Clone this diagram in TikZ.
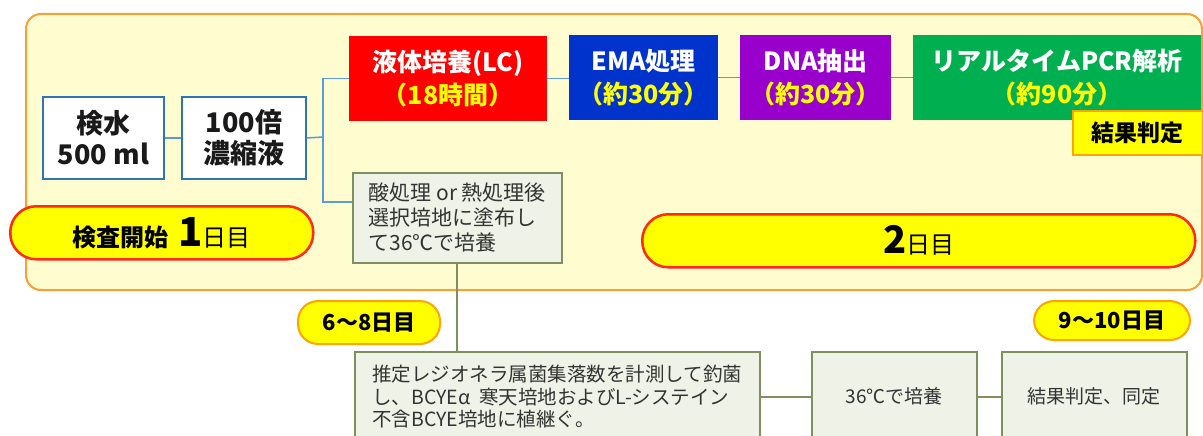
\documentclass[tikz,border=0pt]{standalone}
\usepackage{fontspec}
\setmainfont{Noto Sans CJK JP}
\definecolor{frameor}{HTML}{F7A035}
\definecolor{framefill}{HTML}{FFFDCF}
\definecolor{boxblue}{HTML}{2E75B6}
\definecolor{linkblue}{HTML}{5B9BD5}
\definecolor{lcred}{HTML}{FF0000}
\definecolor{emablue}{HTML}{0033CC}
\definecolor{dnapurple}{HTML}{9900CC}
\definecolor{pcrgreen}{HTML}{00B050}
\definecolor{hiyellow}{HTML}{FFFF00}
\definecolor{pillred}{HTML}{FF2A10}
\definecolor{pillorange}{HTML}{FFA500}
\definecolor{olivebd}{HTML}{7F8F5F}
\definecolor{palebox}{HTML}{EFF2E6}
\definecolor{txtdark}{HTML}{1A1A1A}
\definecolor{txtgray}{HTML}{333333}
\begin{document}
\begin{tikzpicture}[x=1pt,y=-1pt,
  basebox/.style={rectangle, anchor=north west, inner sep=0pt, align=center},
  bluebox/.style={basebox, draw=boxblue, line width=2pt, fill=white, text=txtdark,
    font=\fontsize{27}{31}\selectfont\bfseries},
  colbox/.style={basebox, text=white, font=\fontsize{25}{33}\selectfont\bfseries},
  palegreen/.style={basebox, draw=olivebd, line width=1.5pt, fill=palebox, text=txtgray},
  bigpill/.style={basebox, draw=pillred, line width=2.5pt, fill=hiyellow, rounded corners=26pt, text=black},
  smallpill/.style={basebox, draw=pillorange, line width=2pt, fill=hiyellow, rounded corners=20pt, text=black,
    font=\fontsize{22}{22}\selectfont\bfseries},
  toplink/.style={draw=linkblue, line width=1.5pt},
  botlink/.style={draw=olivebd, line width=2pt}]
\clip (0,0) rectangle (1203,436);
\fill[white] (0,0) rectangle (1203,436);
\node[basebox, draw=frameor, line width=2pt, fill=framefill, rounded corners=15pt,
  minimum width=1176pt, minimum height=276pt] (frame) at (25,13) {};

% top flow
\node[bluebox, minimum width=121pt, minimum height=82pt] (kensui) at (42,96) {検水\\500 ml};
\node[bluebox, minimum width=124pt, minimum height=82pt] (noshuku) at (181,96) {100倍\\濃縮液};
\node[colbox, fill=lcred, minimum width=198pt, minimum height=85pt] (lc) at (349,36)
  {液体培養(LC)\\\textcolor{hiyellow}{（18時間）}};
\node[colbox, fill=emablue, minimum width=149pt, minimum height=85pt] (ema) at (569,35)
  {EMA処理\\\textcolor{hiyellow}{（約30分）}};
\node[colbox, fill=dnapurple, minimum width=151pt, minimum height=85pt] (dna) at (740,35)
  {DNA抽出\\\textcolor{hiyellow}{（約30分）}};
\node[colbox, fill=pcrgreen, minimum width=288pt, minimum height=85pt] (pcr) at (913,35)
  {リアルタイムPCR解析\\\textcolor{hiyellow}{（約90分）}};
\node[basebox, draw=pillorange, line width=1.5pt, fill=hiyellow, text=black,
  font=\fontsize{23}{23}\selectfont\bfseries, minimum width=130pt, minimum height=44pt] (hantei) at (1072,110) {結果判定};
\node[palegreen, align=left, font=\fontsize{21}{25}\selectfont, minimum width=209pt, minimum height=90pt] (san) at (352,172)
  {酸処理 or 熱処理後\\選択培地に塗布し\\て36℃で培養};

% day pills
\node[bigpill, minimum width=303pt, minimum height=53pt] (day1) at (9,205)
  {\fontsize{24}{24}\selectfont\bfseries 検査開始\hspace{10pt}\fontsize{40}{40}\selectfont 1\fontsize{24}{24}\selectfont\mdseries 日目};
\node[bigpill, minimum width=553pt, minimum height=53pt] (day2) at (641,213)
  {\fontsize{38}{38}\selectfont\bfseries 2\fontsize{24}{24}\selectfont\mdseries 日目};
\node[smallpill, minimum width=142pt, minimum height=43pt] (d68) at (297,300) {6〜8日目};
\node[smallpill, minimum width=156pt, minimum height=39pt] (d910) at (1033,300) {9〜10日目};

% bottom flow
\node[palegreen, align=left, font=\fontsize{19.5}{22.5}\selectfont, minimum width=405pt, minimum height=90pt] (suitei) at (354,351)
  {推定レジオネラ属菌集落数を計測して釣菌\\し、BCYEα\ \ 寒天培地およびL-システイン\\不含BCYE培地に植継ぐ。};
\node[palegreen, font=\fontsize{19}{22}\selectfont, minimum width=165pt, minimum height=90pt] (incub) at (811,351) {36℃で培養};
\node[palegreen, font=\fontsize{19}{22}\selectfont, minimum width=185pt, minimum height=90pt] (dotei) at (1001,351) {結果判定、同定};

% connectors
\coordinate (jx) at (323,137);
\draw[toplink] (kensui.east) -- (noshuku.west);
\draw[toplink] (noshuku.east) -- (jx);
\draw[toplink] (lc.west) -| (jx) |- ([yshift=16pt]san.west);
\draw[toplink] (lc.east) -- (lc.east -| ema.west);
\draw[toplink] (ema.east) -- (ema.east -| dna.west);
\draw[toplink] (dna.east) -- (dna.east -| pcr.west);
\draw[botlink] (san.south) -- (san.south |- suitei.north);
\draw[botlink] (suitei.east) -- (incub.west);
\draw[botlink] (incub.east) -- (dotei.west);
\end{tikzpicture}
\end{document}
